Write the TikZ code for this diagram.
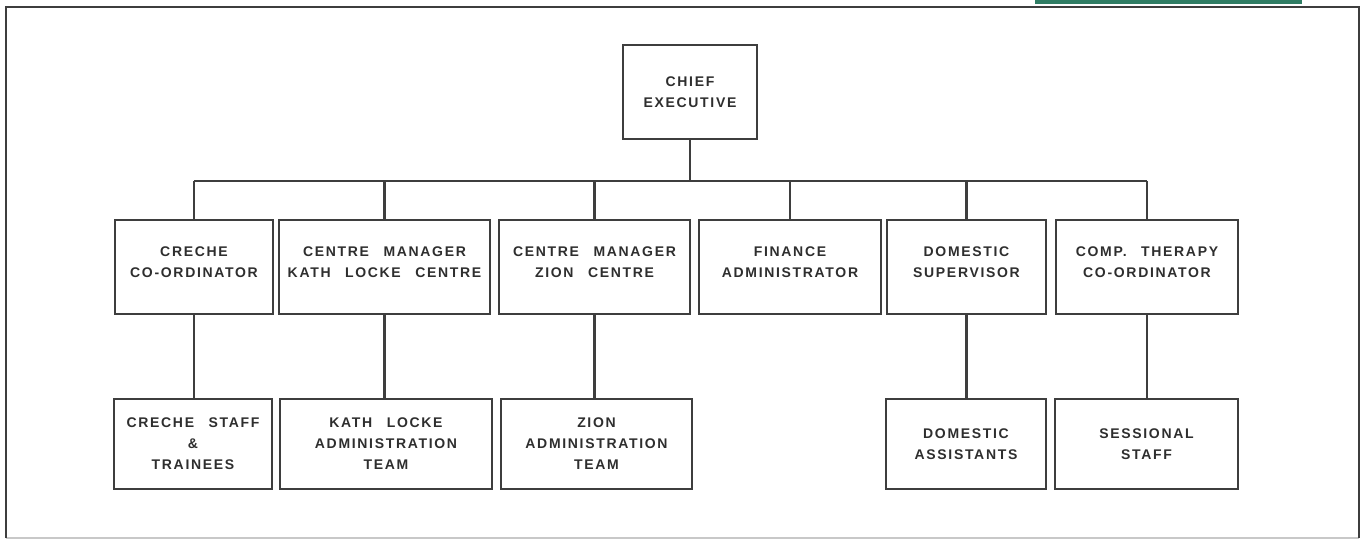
\documentclass[tikz,border=0pt]{standalone}
\usepackage{fontspec}
\setmainfont[LetterSpace=12,WordSpace=2.6]{Liberation Sans}
\definecolor{linegray}{RGB}{62,62,62}
\definecolor{framegray}{RGB}{200,200,200}
\definecolor{tabgreen}{RGB}{47,125,100}
\begin{document}
\begin{tikzpicture}[x=1pt,y=-1pt,
    unit/.style={draw=linegray,line width=2.6pt,inner sep=0pt,align=center,
      font=\fontsize{14}{21}\selectfont\bfseries,text=black!82},
    toprow/.style={unit,minimum height=94pt},
    lowrow/.style={unit,minimum height=90pt},
    link/.style={draw=linegray,line width=2.6pt}]
\useasboundingbox (0,0) rectangle (1365,541);
\fill[tabgreen] (1035,0) rectangle (1302,4);
\draw[framegray,line width=1.5pt] (6,538) -- (1359,538);
\draw[linegray,line width=2.6pt] (6,538) -- (6,7) -- (1359,7) -- (1359,538);

\node[unit,minimum width=134pt,minimum height=94pt] (ceo) at (690,92) {CHIEF\\EXECUTIVE};

\node[toprow,minimum width=158pt,text depth=10pt] (creche) at (194,267) {CRECHE\\CO-ORDINATOR};
\node[toprow,minimum width=211pt,text depth=10pt] (kathmgr) at (384.5,267) {CENTRE MANAGER\\KATH LOCKE CENTRE};
\node[toprow,minimum width=191pt,text depth=10pt] (zionmgr) at (594.5,267) {CENTRE MANAGER\\ZION CENTRE};
\node[toprow,minimum width=182pt,text depth=10pt] (finance) at (790,267) {FINANCE\\ADMINISTRATOR};
\node[toprow,minimum width=159pt,text depth=10pt] (domsup) at (966.5,267) {DOMESTIC\\SUPERVISOR};
\node[toprow,minimum width=182pt,text depth=10pt] (therapy) at (1147,267) {COMP. THERAPY\\CO-ORDINATOR};

\node[lowrow,minimum width=158pt] (crecheteam) at (193,444) {CRECHE STAFF\\\&\\TRAINEES};
\node[lowrow,minimum width=212pt] (kathteam) at (386,444) {KATH LOCKE\\ADMINISTRATION\\TEAM};
\node[lowrow,minimum width=191pt] (zionteam) at (596.5,444) {ZION\\ADMINISTRATION\\TEAM};
\node[lowrow,minimum width=160pt] (domteam) at (966,444) {DOMESTIC\\ASSISTANTS};
\node[lowrow,minimum width=183pt] (sessteam) at (1146.5,444) {SESSIONAL\\STAFF};

\coordinate (bus) at (690,181);
\draw[link] (ceo.south) -- (bus);
\draw[link] (creche.north |- bus) -- (therapy.north |- bus);
\foreach \n in {creche,kathmgr,zionmgr,finance,domsup,therapy}
  \draw[link] (\n.north |- bus) -- (\n.north);

\foreach \a/\b in {creche/crecheteam,kathmgr/kathteam,zionmgr/zionteam,domsup/domteam,therapy/sessteam}
  \draw[link] (\a.south) -- (\a.south |- \b.north);
\end{tikzpicture}
\end{document}
